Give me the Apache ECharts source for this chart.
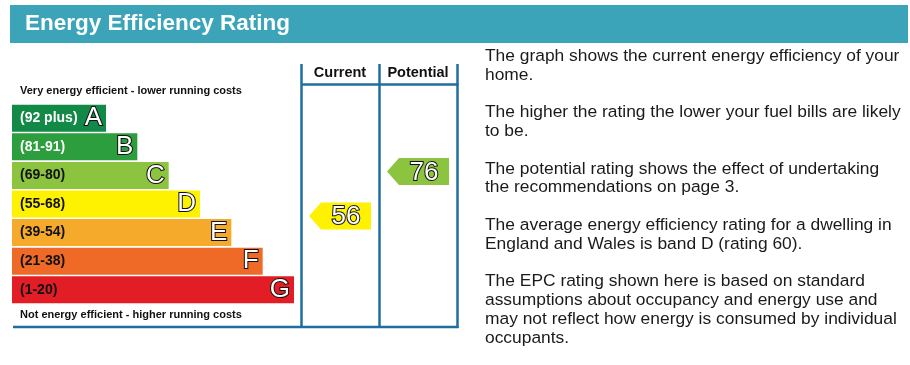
<!DOCTYPE html>
<html><head><meta charset="utf-8">
<script src="https://cdn.jsdelivr.net/npm/echarts@6/dist/echarts.min.js"></script>
<style>html,body{margin:0;padding:0;background:#fff}#c{width:910px;height:365px}</style>
</head><body><div id="c"></div>
<script>
// ---- data ----
const bandLetters = ['G','F','E','D','C','B','A'];
const bandRanges = ['(1-20)','(21-38)','(39-54)','(55-68)','(69-80)','(81-91)','(92 plus)'];
const bandMin = [1,21,39,55,69,81,92];
const bandMax = [20,38,54,68,80,91,100];
const bandLength = [9,8,7,6,5,4,3];
const bandColors = ['#e31d25','#ee6a26','#f5aa2c','#fff200','#8cc43f','#2c9e3d','#128946'];
const bandTextColors = ['#111','#111','#111','#111','#111','#fff','#fff'];
const columns = ['Current','Potential'];
const ratings = [56, 76];
const titleText = 'Energy Efficiency Rating';
const topCaption = 'Very energy efficient - lower running costs';
const bottomCaption = 'Not energy efficient - higher running costs';
const descLines = [
 'The graph shows the current energy efficiency of your',
 'home.',
 '',
 'The higher the rating the lower your fuel bills are likely',
 'to be.',
 '',
 'The potential rating shows the effect of undertaking',
 'the recommendations on page 3.',
 '',
 'The average energy efficiency rating for a dwelling in',
 'England and Wales is band D (rating 60).',
 '',
 'The EPC rating shown here is based on standard',
 'assumptions about occupancy and energy use and',
 'may not reflect how energy is consumed by individual',
 'occupants.'
];

// ---- helpers ----
function bandIndexOf(v){
  for (let i=0;i<bandMin.length;i++){ if (v>=bandMin[i] && v<=bandMax[i]) return i; }
  return v<1?0:bandMin.length-1;
}
function bandPos(v){
  const i = bandIndexOf(v);
  return i + (v - bandMin[i])/(bandMax[i]-bandMin[i]);
}
const FONT = '"Liberation Sans", Arial, Helvetica, sans-serif';
const FRAME = '#1f6e9f';

const chart = echarts.init(document.getElementById('c'), null, {renderer:'canvas'});
const arrowData = ratings.map((r,i)=>{
  const bi = bandIndexOf(r);
  return {value:[i, bandPos(r), r], itemStyle:{color:bandColors[bi]}};
});

chart.setOption({
  animation:false,
  backgroundColor:'#fff',
  grid:[
    {left:12, top:104, width:282, height:200},
    {left:301, top:104, width:156, height:200}
  ],
  xAxis:[
    {gridIndex:0, type:'value', min:0, max:9, show:false},
    {gridIndex:1, type:'category', data:columns, position:'top',
     axisLine:{show:false}, axisTick:{show:false}, splitLine:{show:false},
     axisLabel:{interval:0, hideOverlap:false, margin:24, fontWeight:'bold', fontSize:14.5, color:'#111', fontFamily:FONT}}
  ],
  yAxis:[
    {gridIndex:0, type:'category', data:bandLetters, show:false},
    {gridIndex:1, type:'value', min:0, max:7, show:false}
  ],
  series:[
    {type:'bar', xAxisIndex:0, yAxisIndex:0, barWidth:27,
     data:bandLength.map((v,i)=>({value:v, itemStyle:{color:bandColors[i]},
        label:{color:bandTextColors[i]}})),
     label:{show:true, position:'insideLeft', distance:8, fontWeight:'bold', fontSize:14,
        fontFamily:FONT, formatter:p=>bandRanges[p.dataIndex]}},
    {type:'bar', xAxisIndex:0, yAxisIndex:0, barWidth:27, barGap:'-100%',
     data:bandLength.slice(), itemStyle:{color:'rgba(0,0,0,0)'},
     label:{show:true, position:'insideRight', distance:4, fontSize:26, fontFamily:FONT,
        color:'#fff', textBorderColor:'#111', textBorderWidth:2,
        formatter:p=>bandLetters[p.dataIndex]}},
    {type:'custom', xAxisIndex:1, yAxisIndex:1, data:arrowData,
     renderItem:function(params, api){
        const p = api.coord([api.value(0), api.value(1)]);
        const h = 27, halfW = 31, tip = 12;
        const l = p[0]-halfW, r = p[0]+halfW, y = p[1];
        return {type:'group', children:[
          {type:'polygon', shape:{points:[[l,y],[l+tip,y-h/2],[r,y-h/2],[r,y+h/2],[l+tip,y+h/2]]},
           style:{fill:api.visual('color')}},
          {type:'text', x:(l+tip+r)/2, y:y+1, style:{text:String(api.value(2)), align:'center',
           verticalAlign:'middle', fontSize:26, fontFamily:FONT, fill:'#fff',
           stroke:'#111', lineWidth:2}}
        ]};
     }}
  ],
  graphic:[
    {type:'rect', shape:{x:10, y:5, width:898, height:38}, style:{fill:'#3ba4b8'}},
    {type:'text', x:25, y:24, style:{text:titleText, fontSize:22.5, fontWeight:'bold',
      fontFamily:FONT, fill:'#fff', verticalAlign:'middle'}},
    {type:'text', x:20, y:91, style:{text:topCaption, fontSize:11, fontWeight:'bold',
      fontFamily:FONT, fill:'#111', verticalAlign:'middle'}},
    {type:'text', x:20, y:315, style:{text:bottomCaption, fontSize:11, fontWeight:'bold',
      fontFamily:FONT, fill:'#111', verticalAlign:'middle'}},
    {type:'line', shape:{x1:301.5, y1:64, x2:301.5, y2:328}, style:{stroke:FRAME, lineWidth:2.5}},
    {type:'line', shape:{x1:379.5, y1:64, x2:379.5, y2:328}, style:{stroke:FRAME, lineWidth:2.5}},
    {type:'line', shape:{x1:457.5, y1:64, x2:457.5, y2:328}, style:{stroke:FRAME, lineWidth:2.5}},
    {type:'line', shape:{x1:301, y1:84.5, x2:458.5, y2:84.5}, style:{stroke:FRAME, lineWidth:2.5}},
    {type:'line', shape:{x1:13, y1:327, x2:458.5, y2:327}, style:{stroke:FRAME, lineWidth:2.5}},
    {type:'text', x:485, y:46.6, style:{text:descLines.join('\n'), fontSize:17.4, lineHeight:18.8,
      fontFamily:FONT, fill:'#1a1a1a', verticalAlign:'top'}}
  ]
});
</script></body></html>
